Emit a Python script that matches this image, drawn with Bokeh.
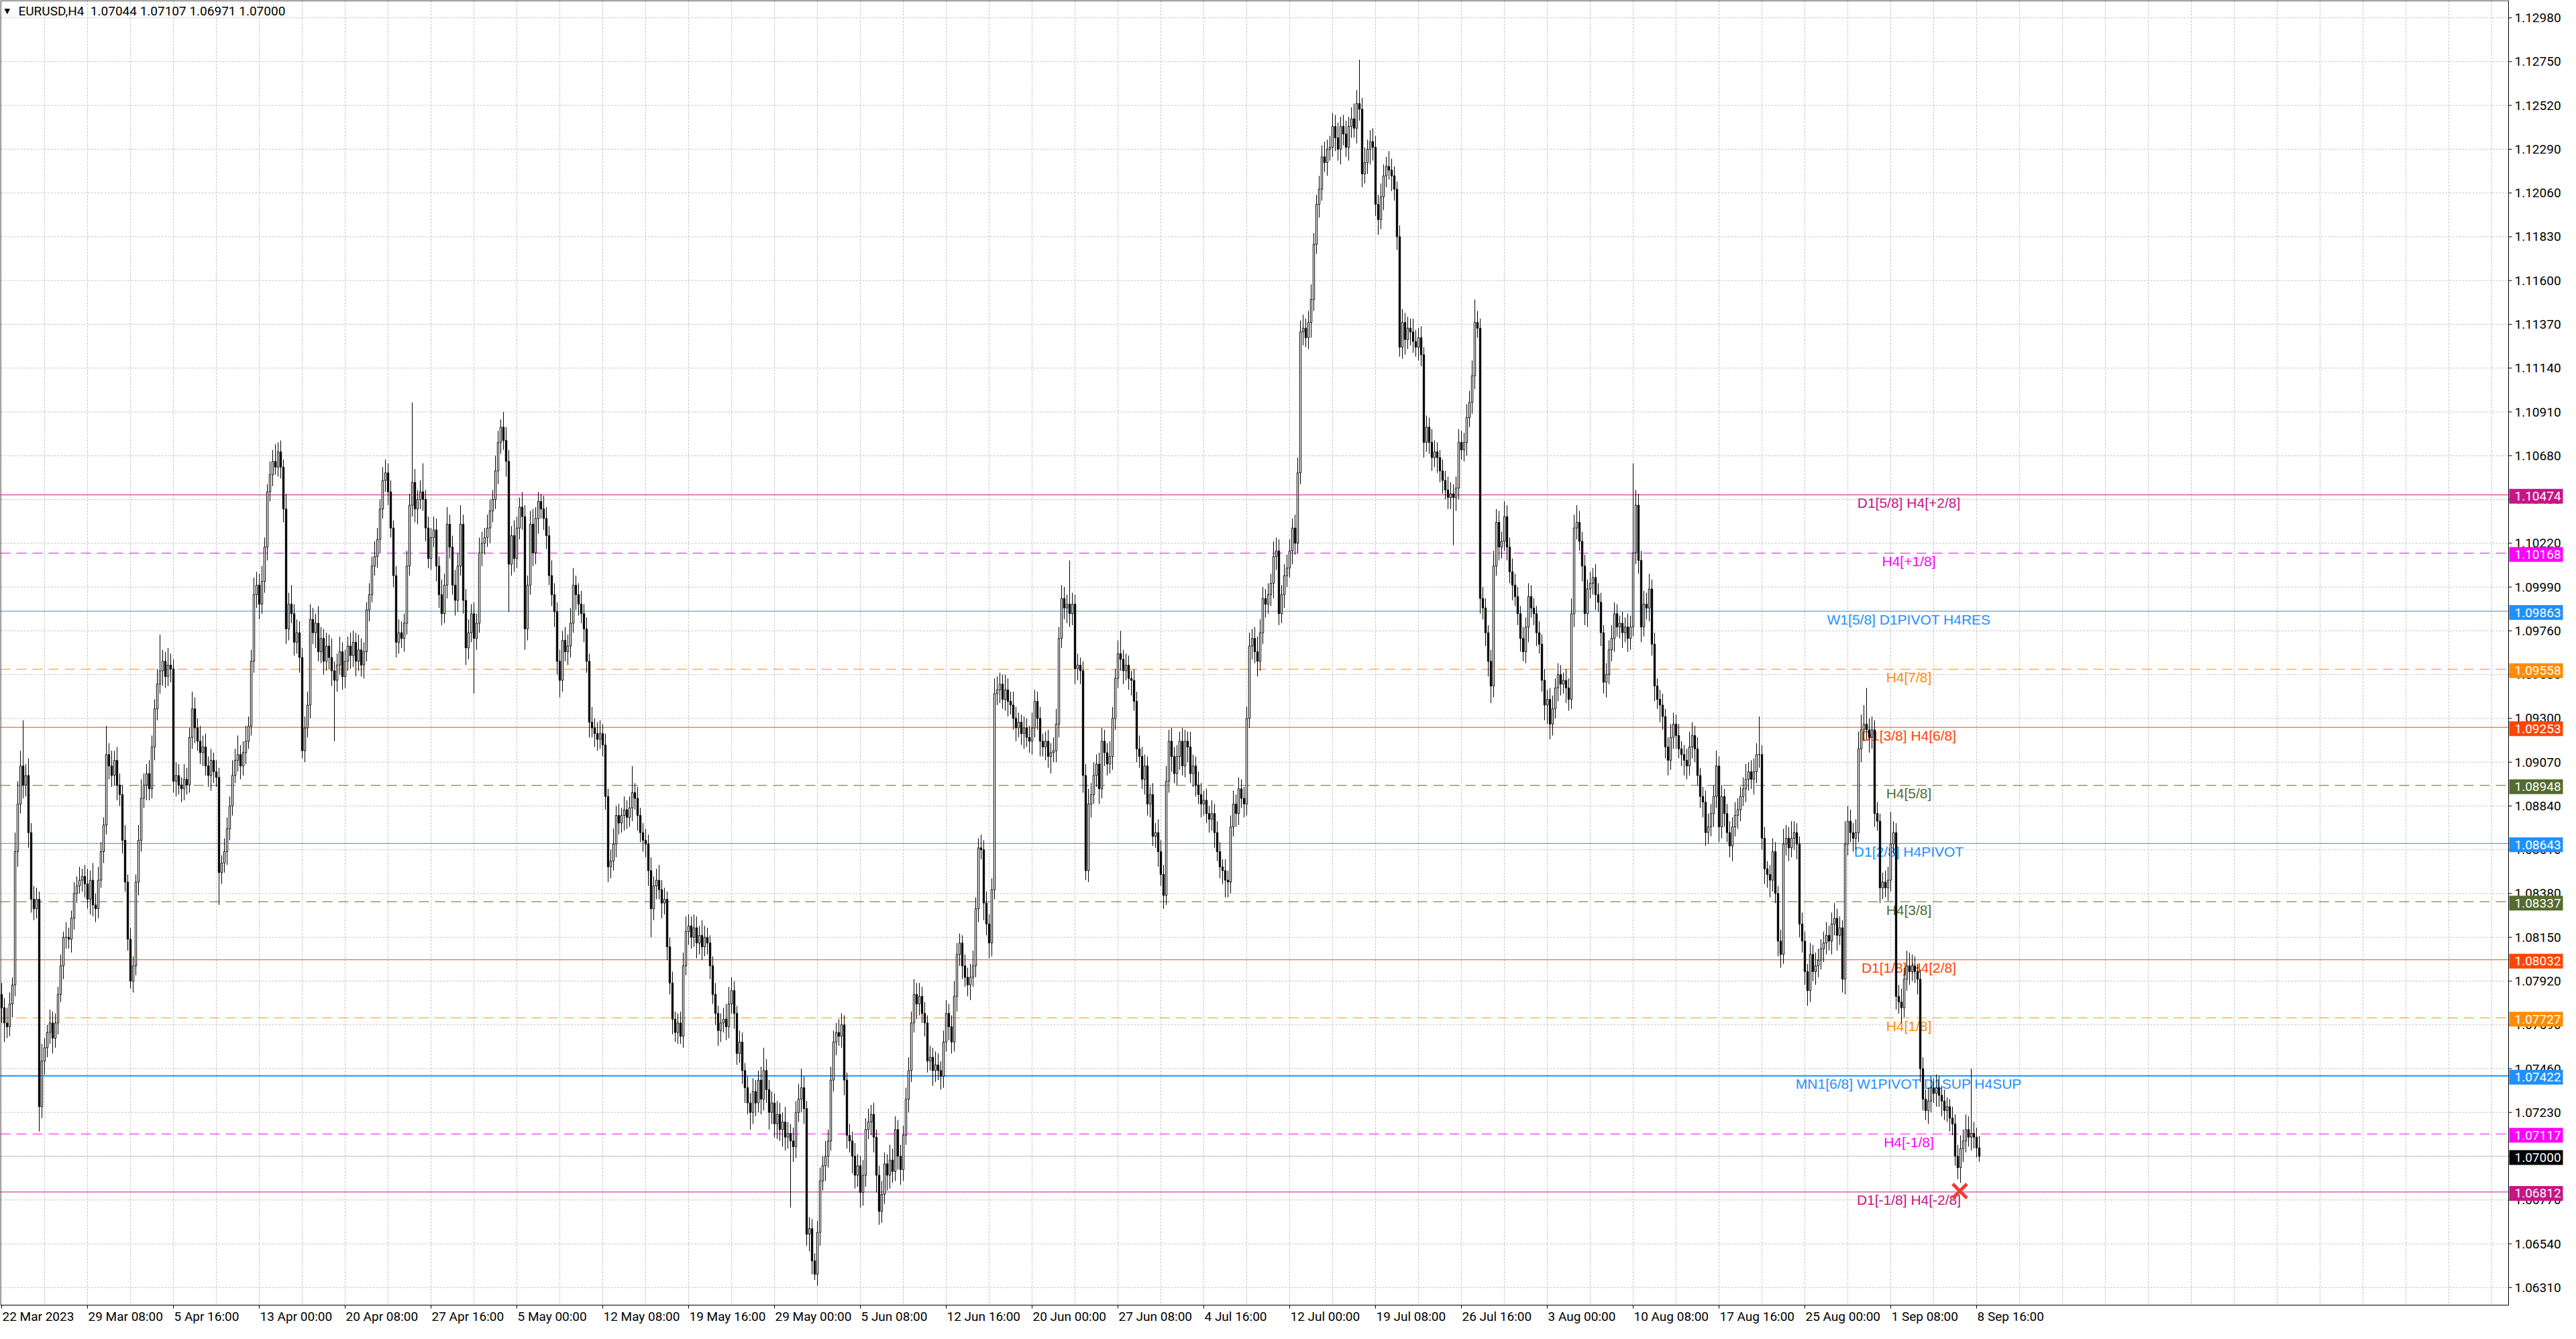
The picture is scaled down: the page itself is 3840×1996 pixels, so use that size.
import numpy as np
from bokeh.plotting import figure
from bokeh.models import Range1d
from bokeh.core.properties import value
from bokeh.embed import file_html
from bokeh.resources import INLINE

symbol = "EURUSD,H4"

# H4 closes in 1/10000 above 1.0000, one row per 16 bars (opens follow previous close)
first_open = 785
close_p = [
    778, 770, 768, 780, 790, 860, 885, 905, 895, 900, 870, 835, 830, 835, 726, 750,
    757, 765, 770, 762, 770, 785, 800, 815, 815, 814, 825, 838, 842, 845, 847, 843,
    835, 845, 832, 830, 845, 860, 874, 911, 905, 900, 908, 895, 890, 866, 844, 814,
    792, 800, 844, 866, 888, 895, 901, 893, 915, 935, 948, 955, 960, 952, 958, 956,
    897, 900, 895, 893, 898, 895, 920, 935, 925, 918, 912, 915, 905, 900, 908, 902,
    899, 849, 854, 860, 872, 884, 900, 908, 911, 905, 912, 918, 926, 960, 995, 1000,
    990, 1002, 1020, 1049, 1058, 1065, 1062, 1070, 1062, 1040, 977, 990, 985, 970, 975, 962,
    913, 925, 937, 982, 975, 980, 965, 972, 960, 968, 962, 955, 950, 958, 965, 952,
    960, 968, 963, 970, 960, 966, 958, 965, 987, 995, 1010, 1015, 1024, 1040, 1055, 1059,
    1049, 1030, 1005, 970, 975, 972, 980, 1010, 1042, 1054, 1040, 1045, 1049, 1045, 1030, 1014,
    1025, 1029, 1010, 995, 985, 1000, 1032, 1020, 1000, 992, 1010, 1032, 992, 967, 975, 985,
    972, 980, 1017, 1022, 1025, 1030, 1039, 1045, 1060, 1075, 1083, 1076, 1065, 1011, 1026, 1014,
    1030, 1041, 1036, 977, 1000, 1032, 1017, 1035, 1044, 1040, 1035, 1026, 1005, 995, 986, 960,
    950, 971, 965, 968, 980, 1000, 995, 990, 985, 977, 960, 928, 925, 922, 919, 922,
    916, 889, 852, 855, 864, 879, 875, 879, 882, 878, 883, 891, 888, 879, 870, 866,
    864, 850, 830, 842, 845, 840, 833, 835, 810, 791, 772, 765, 770, 763, 800, 818,
    821, 815, 820, 812, 816, 810, 815, 812, 800, 785, 775, 766, 770, 772, 768, 780,
    787, 775, 754, 760, 745, 736, 728, 723, 734, 728, 740, 730, 745, 735, 723, 728,
    717, 722, 714, 718, 710, 712, 708, 705, 723, 730, 736, 725, 659, 662, 645, 638,
    660, 687, 695, 700, 708, 740, 760, 765, 763, 769, 740, 711, 708, 700, 690, 695,
    681, 690, 714, 718, 722, 710, 690, 671, 680, 696, 690, 698, 692, 714, 700, 693,
    711, 730, 745, 770, 785, 780, 784, 775, 770, 750, 752, 745, 748, 745, 742, 760,
    775, 768, 760, 784, 806, 812, 800, 794, 790, 794, 800, 830, 862, 861, 833, 822,
    812, 840, 943, 945, 948, 940, 945, 939, 937, 930, 925, 928, 922, 925, 920, 918,
    925, 939, 930, 918, 915, 918, 910, 912, 913, 927, 972, 993, 988, 990, 985, 990,
    956, 958, 955, 900, 850, 885, 890, 900, 906, 893, 918, 912, 906, 910, 930, 951,
    964, 961, 955, 958, 951, 950, 939, 914, 910, 898, 905, 885, 890, 868, 870, 860,
    848, 837, 897, 918, 910, 901, 910, 918, 905, 918, 915, 901, 905, 895, 890, 885,
    887, 880, 877, 880, 870, 860, 852, 850, 845, 844, 873, 885, 880, 893, 888, 885,
    930, 968, 972, 965, 960, 975, 993, 990, 995, 1001, 1015, 1018, 985, 995, 1005, 1009,
    1018, 1030, 1022, 1059, 1133, 1135, 1130, 1138, 1150, 1179, 1200, 1208, 1225, 1222, 1229, 1230,
    1241, 1235, 1229, 1241, 1237, 1230, 1241, 1245, 1240, 1253, 1250, 1216, 1222, 1229, 1233, 1230,
    1200, 1192, 1204, 1215, 1220, 1218, 1215, 1208, 1183, 1125, 1138, 1129, 1135, 1133, 1128, 1125,
    1130, 1121, 1075, 1083, 1075, 1067, 1070, 1067, 1060, 1055, 1050, 1046, 1048, 1046, 1051, 1075,
    1071, 1075, 1088, 1096, 1110, 1138, 1135, 993, 988, 975, 960, 947, 1010, 1033, 1020, 1023,
    1036, 1020, 1007, 1000, 994, 985, 972, 965, 978, 994, 988, 985, 975, 969, 950, 937,
    940, 927, 935, 946, 953, 948, 950, 946, 940, 985, 1030, 1033, 1023, 1010, 985, 998,
    1001, 1004, 995, 991, 975, 949, 953, 966, 972, 985, 978, 980, 975, 978, 972, 978,
    1017, 1042, 1013, 978, 990, 988, 998, 969, 947, 940, 937, 931, 915, 908, 920, 927,
    921, 914, 911, 908, 905, 915, 921, 914, 900, 889, 886, 870, 873, 880, 889, 905,
    873, 889, 880, 870, 863, 873, 879, 882, 889, 893, 898, 902, 898, 902, 911, 911,
    867, 851, 848, 845, 860, 838, 813, 806, 864, 867, 862, 867, 870, 864, 822, 813,
    797, 787, 806, 797, 800, 803, 809, 812, 816, 813, 822, 825, 816, 820, 793, 864,
    876, 870, 867, 870, 914, 924, 927, 924, 920, 924, 880, 876, 841, 844, 841, 845,
    864, 870, 784, 781, 778, 793, 800, 797, 800, 797, 793, 746, 730, 724, 729, 736,
    733, 736, 732, 729, 724, 726, 720, 717, 700, 694, 704, 708, 714, 710, 712, 710,
    704.4, 700,
]
# upper / lower shadow lengths beyond the body, same units
hi_wick = [
    6, 5, 8, 6, 4, 10, 12, 8, 24, 6, 9, 5, 7, 6, 4, 9,
    5, 4, 7, 6, 5, 4, 6, 3, 8, 5, 4, 6, 5, 7, 4, 6,
    8, 5, 9, 6, 7, 5, 4, 15, 6, 8, 5, 7, 6, 5, 8, 4,
    6, 5, 4, 8, 10, 6, 5, 7, 6, 5, 8, 19, 6, 5, 9, 6,
    5, 7, 6, 4, 8, 6, 5, 9, 6, 5, 8, 6, 7, 5, 6, 4,
    6, 5, 4, 7, 6, 5, 8, 6, 10, 5, 6, 8, 5, 6, 9, 7,
    6, 8, 5, 4, 7, 6, 9, 5, 6, 4, 8, 6, 10, 5, 7, 6,
    5, 6, 7, 8, 6, 5, 9, 6, 5, 7, 6, 10, 5, 6, 8, 5,
    6, 5, 7, 6, 5, 8, 6, 5, 4, 6, 5, 8, 6, 5, 7, 7,
    5, 6, 4, 5, 7, 6, 5, 8, 6, 42, 7, 5, 6, 15, 5, 6,
    5, 7, 6, 5, 8, 6, 9, 5, 6, 8, 7, 10, 5, 6, 7, 5,
    6, 5, 8, 6, 5, 7, 6, 5, 8, 6, 4, 8, 7, 6, 5, 8,
    6, 5, 8, 6, 5, 7, 8, 6, 5, 4, 7, 6, 5, 8, 6, 5,
    6, 5, 7, 6, 8, 9, 5, 6, 7, 5, 6, 4, 8, 5, 6, 7,
    5, 6, 4, 6, 8, 5, 6, 4, 7, 5, 6, 14, 5, 6, 4, 5,
    6, 5, 7, 5, 6, 8, 5, 6, 4, 5, 6, 4, 5, 6, 7, 8,
    6, 5, 7, 6, 5, 8, 6, 5, 4, 5, 6, 4, 5, 6, 8, 9,
    7, 5, 4, 6, 5, 4, 6, 5, 7, 6, 5, 7, 12, 6, 5, 6,
    5, 7, 6, 5, 8, 6, 5, 7, 6, 8, 10, 6, 4, 6, 5, 4,
    6, 7, 5, 8, 6, 7, 6, 5, 7, 6, 5, 4, 6, 5, 7, 6,
    5, 8, 6, 7, 5, 6, 4, 5, 7, 6, 5, 8, 6, 7, 5, 6,
    5, 6, 7, 6, 8, 6, 7, 5, 6, 4, 6, 5, 7, 6, 5, 6,
    7, 5, 6, 8, 6, 5, 4, 6, 5, 7, 8, 6, 5, 7, 5, 6,
    5, 6, 8, 7, 6, 5, 8, 6, 5, 7, 6, 5, 4, 6, 5, 6,
    8, 6, 5, 6, 4, 5, 6, 5, 7, 8, 6, 7, 6, 5, 23, 6,
    5, 6, 4, 5, 6, 8, 6, 7, 5, 6, 7, 6, 5, 8, 6, 5,
    7, 12, 5, 6, 5, 4, 6, 5, 7, 5, 6, 5, 4, 6, 5, 7,
    6, 5, 8, 6, 7, 5, 6, 5, 7, 6, 5, 8, 6, 5, 7, 6,
    5, 6, 4, 7, 5, 6, 5, 4, 6, 5, 6, 7, 5, 6, 5, 6,
    6, 7, 5, 6, 8, 7, 6, 5, 6, 5, 8, 7, 6, 5, 6, 7,
    6, 5, 7, 8, 6, 7, 5, 6, 8, 6, 5, 7, 6, 8, 5, 6,
    7, 6, 8, 5, 6, 7, 5, 6, 8, 7, 23, 6, 8, 5, 6, 7,
    6, 5, 7, 6, 5, 8, 6, 5, 4, 6, 7, 5, 6, 5, 7, 6,
    5, 6, 4, 6, 5, 7, 6, 5, 4, 6, 5, 7, 6, 5, 6, 7,
    6, 5, 7, 6, 8, 12, 6, 5, 6, 5, 4, 6, 8, 7, 6, 5,
    8, 6, 5, 7, 6, 5, 4, 6, 5, 7, 6, 5, 4, 6, 5, 6,
    5, 6, 7, 5, 6, 5, 4, 6, 5, 8, 7, 9, 6, 5, 6, 5,
    6, 5, 7, 6, 5, 4, 6, 5, 7, 6, 5, 4, 6, 5, 7, 6,
    47, 8, 6, 5, 7, 6, 8, 5, 6, 4, 5, 6, 4, 5, 7, 6,
    5, 6, 4, 5, 6, 8, 7, 5, 6, 4, 5, 6, 7, 5, 6, 8,
    5, 6, 4, 5, 6, 5, 7, 6, 5, 6, 8, 5, 6, 7, 6, 20,
    5, 6, 4, 5, 7, 5, 4, 6, 8, 7, 6, 9, 6, 5, 4, 6,
    5, 4, 6, 5, 7, 6, 5, 6, 7, 5, 6, 8, 5, 6, 4, 12,
    8, 6, 5, 7, 9, 8, 10, 19, 6, 7, 5, 6, 4, 5, 6, 7,
    17, 6, 5, 6, 7, 6, 8, 7, 6, 5, 4, 5, 6, 5, 7, 6,
    5, 7, 6, 5, 6, 5, 4, 6, 5, 6, 7, 6, 8, 7, 34, 6,
    5, 6.3,
]
lo_wick = [
    8, 10, 6, 5, 7, 6, 8, 5, 7, 6, 8, 7, 6, 5, 13, 6,
    7, 5, 6, 8, 5, 6, 4, 7, 6, 5, 7, 6, 5, 4, 6, 7,
    5, 8, 6, 7, 5, 4, 6, 5, 7, 6, 5, 8, 6, 7, 5, 6,
    4, 6, 5, 7, 6, 5, 8, 6, 5, 7, 6, 5, 8, 6, 5, 7,
    6, 8, 5, 7, 6, 5, 4, 6, 8, 5, 6, 7, 5, 6, 8, 6,
    5, 17, 6, 5, 7, 6, 5, 4, 6, 7, 5, 6, 4, 5, 6, 7,
    8, 5, 6, 7, 5, 6, 4, 5, 6, 7, 8, 6, 5, 7, 6, 8,
    4, 6, 5, 7, 6, 8, 5, 6, 7, 5, 6, 8, 32, 6, 5, 7,
    6, 5, 7, 6, 8, 5, 6, 7, 5, 6, 4, 5, 6, 7, 5, 6,
    7, 5, 6, 8, 6, 5, 7, 6, 5, 6, 7, 8, 5, 6, 7, 5,
    6, 5, 8, 7, 6, 5, 7, 6, 5, 8, 6, 5, 7, 9, 6, 5,
    29, 6, 5, 7, 6, 5, 8, 6, 5, 7, 6, 5, 8, 25, 6, 7,
    5, 6, 7, 11, 6, 5, 7, 6, 8, 5, 6, 7, 5, 6, 8, 7,
    9, 6, 5, 7, 6, 5, 8, 6, 5, 7, 6, 8, 5, 7, 6, 5,
    6, 7, 8, 6, 5, 7, 6, 5, 8, 6, 5, 7, 6, 8, 5, 6,
    7, 8, 15, 6, 7, 5, 8, 6, 7, 6, 8, 5, 6, 4, 6, 5,
    7, 6, 5, 8, 6, 7, 5, 6, 7, 5, 6, 8, 6, 5, 7, 6,
    5, 8, 6, 5, 7, 8, 6, 9, 6, 7, 5, 8, 6, 7, 9, 6,
    7, 8, 6, 9, 7, 6, 35, 8, 6, 5, 7, 8, 6, 9, 7, 3,
    6, 7, 5, 8, 6, 5, 6, 7, 5, 6, 8, 7, 6, 9, 7, 6,
    8, 7, 6, 5, 7, 8, 9, 7, 6, 5, 8, 7, 6, 5, 7, 8,
    6, 5, 7, 6, 5, 8, 6, 5, 7, 6, 5, 8, 6, 5, 7, 6,
    5, 7, 6, 5, 8, 6, 7, 5, 6, 8, 5, 6, 7, 5, 9, 6,
    8, 7, 5, 6, 7, 5, 6, 8, 5, 6, 7, 5, 6, 8, 5, 6,
    7, 5, 6, 8, 5, 7, 6, 9, 5, 6, 7, 5, 6, 8, 7, 6,
    8, 6, 7, 9, 5, 6, 7, 5, 6, 8, 5, 7, 6, 5, 7, 6,
    5, 6, 7, 5, 6, 8, 5, 7, 6, 5, 8, 6, 7, 5, 6, 8,
    6, 7, 5, 6, 8, 5, 6, 7, 5, 6, 8, 5, 7, 6, 5, 7,
    6, 5, 7, 6, 8, 5, 6, 7, 9, 8, 6, 5, 7, 6, 5, 7,
    6, 5, 7, 6, 8, 5, 6, 7, 5, 6, 8, 7, 6, 5, 7, 6,
    5, 7, 6, 5, 6, 7, 5, 6, 8, 6, 5, 7, 6, 5, 7, 6,
    5, 7, 6, 8, 6, 5, 7, 6, 5, 8, 6, 7, 5, 6, 8, 7,
    6, 8, 5, 7, 6, 5, 8, 6, 7, 5, 6, 8, 5, 7, 6, 5,
    7, 6, 8, 5, 6, 7, 5, 8, 6, 7, 5, 6, 6, 25, 7, 6,
    5, 6, 7, 5, 6, 7, 5, 8, 6, 7, 8, 9, 6, 5, 7, 6,
    5, 7, 6, 8, 5, 6, 7, 5, 6, 8, 5, 6, 7, 5, 6, 8,
    10, 8, 6, 5, 7, 6, 5, 8, 6, 5, 7, 6, 5, 8, 6, 7,
    5, 6, 8, 5, 7, 6, 8, 5, 6, 7, 5, 6, 8, 5, 7, 6,
    5, 6, 7, 8, 5, 6, 7, 6, 8, 5, 9, 7, 6, 8, 5, 6,
    7, 5, 6, 8, 7, 5, 6, 7, 5, 6, 8, 7, 6, 5, 7, 6,
    8, 6, 7, 5, 6, 8, 5, 7, 6, 5, 7, 6, 5, 8, 6, 7,
    6, 8, 7, 9, 6, 5, 8, 7, 5, 6, 7, 5, 6, 8, 7, 6,
    7, 8, 6, 5, 7, 6, 5, 7, 6, 5, 7, 6, 8, 5, 7, 8,
    6, 5, 7, 6, 5, 7, 6, 5, 8, 6, 7, 5, 8, 6, 5, 7,
    6, 5, 7, 6, 8, 5, 6, 7, 5, 6, 8, 7, 6, 5, 7, 6,
    5, 7, 6, 8, 5, 6, 7, 6, 5, 6, 8, 7, 6, 5, 7, 6,
    5, 2.9,
]

# time axis: a label every 32 bars
date_labels = ["22 Mar 2023", "29 Mar 08:00", "5 Apr 16:00", "13 Apr 00:00", "20 Apr 08:00",
               "27 Apr 16:00", "5 May 00:00", "12 May 08:00", "19 May 16:00", "29 May 00:00",
               "5 Jun 08:00", "12 Jun 16:00", "20 Jun 00:00", "27 Jun 08:00", "4 Jul 16:00",
               "12 Jul 00:00", "19 Jul 08:00", "26 Jul 16:00", "3 Aug 00:00", "10 Aug 08:00",
               "17 Aug 16:00", "25 Aug 00:00", "1 Sep 08:00", "8 Sep 16:00"]
bars_per_label = 32

price_ticks = [1.06310, 1.06540, 1.06770, 1.07000, 1.07230, 1.07460, 1.07690, 1.07920,
               1.08150, 1.08380, 1.08610, 1.08840, 1.09070, 1.09300, 1.09530, 1.09760,
               1.09990, 1.10220, 1.10450, 1.10680, 1.10910, 1.11140, 1.11370, 1.11600,
               1.11830, 1.12060, 1.12290, 1.12520, 1.12750, 1.12980]

levels = [1.10474, 1.10168, 1.09863, 1.09558, 1.09253, 1.08948, 1.08643,
          1.08337, 1.08032, 1.07727, 1.07422, 1.07117, 1.06812]
level_names = ["D1[5/8] H4[+2/8]", "H4[+1/8]", "W1[5/8] D1PIVOT H4RES", "H4[7/8]",
               "D1[3/8] H4[6/8]", "H4[5/8]", "D1[2/8] H4PIVOT", "H4[3/8]",
               "D1[1/8] H4[2/8]", "H4[1/8]", "MN1[6/8] W1PIVOT D1SUP H4SUP",
               "H4[-1/8]", "D1[-1/8] H4[-2/8]"]
level_colors = ["#C71585", "#FF00FF", "#1E90FF", "#FF8C00", "#FF4500", "#556B2F", "#1E90FF",
                "#556B2F", "#FF4500", "#FF8C00", "#1E90FF", "#FF00FF", "#C71585"]
level_dashed = [False, True, False, True, False, True, False, True, False, True, False, True, False]
level_width = [1, 1, 1, 1, 1, 1, 1, 1, 1, 1, 2, 1, 1]

cross_bar = [729.75]
cross_price = [1.06817]

# ---- candles
n = min(len(close_p), len(hi_wick), len(lo_wick))
c = 1 + np.array(close_p[:n], float) / 1e4
o = np.concatenate([[1 + first_open / 1e4], c[:-1]])
hi = np.maximum(o, c) + np.array(hi_wick[:n], float) / 1e4
lo = np.minimum(o, c) - np.array(lo_wick[:n], float) / 1e4
x = np.arange(n)
body_fill = np.where(c >= o, "white", "black")

# canvas geometry: 4 px per bar, price scale as on the terminal
FW, FH = 3824, 1980
CW, CB = 3739, 1945          # right edge of chart area, bottom edge of chart area (px)
py = 3.524e-5                 # price per pixel
x0 = -0.5
y1 = 1.13072


def X(px):
    return x0 + px / 4.0


def Y(px):
    return y1 - px * py


p = figure(frame_width=FW, frame_height=FH, x_range=Range1d(x0, X(FW)), y_range=Range1d(Y(FH), y1),
           output_backend="svg", toolbar_location=None, x_axis_location=None, y_axis_location=None,
           min_border=0, background_fill_color="white", border_fill_color="white")
p.outline_line_color = None
p.grid.visible = False

font = value("Roboto")
grid_c = "#C4C4C4"

# grid
nt = len(price_ticks)
p.segment(x0=[X(0)] * nt, y0=price_ticks, x1=[X(CW)] * nt, y1=price_ticks,
          line_color=grid_c, line_dash="3 2", line_width=1)
vg = list(range(16, int(X(CW)), 16))
p.segment(x0=vg, y0=[Y(0)] * len(vg), x1=vg, y1=[Y(CB)] * len(vg),
          line_color=grid_c, line_dash="3 2", line_width=1)

# levels and bid line
for lv, col, d, w in zip(levels, level_colors, level_dashed, level_width):
    p.segment(x0=[X(0)], y0=[lv], x1=[X(CW)], y1=[lv], line_color=col, line_width=w,
              line_dash="15 9" if d else "solid")
p.segment(x0=[X(0)], y0=[c[-1]], x1=[X(CW)], y1=[c[-1]], line_color="#C0C0C0", line_width=1)

p.text(x=[710.75] * len(levels), y=[lv - 12 * py for lv in levels], text=level_names,
       text_color=level_colors, text_font=value("Liberation Sans"), text_font_size="21px",
       text_align="center", text_baseline="middle")

# candles
p.segment(x0=x, y0=lo, x1=x, y1=hi, line_color="black", line_width=1)
p.vbar(x=x, width=0.6, top=np.maximum(o, c), bottom=np.minimum(o, c),
       fill_color=body_fill, line_color="black", line_width=1)

p.scatter(cross_bar, cross_price, marker="x", size=30, line_width=5, line_color="#E5413A")

# chart frame
p.quad(left=[X(0.5)], right=[X(CW)], top=[Y(0.5)], bottom=[Y(CB)],
       fill_color=None, line_color="black", line_width=1)

# price scale
p.segment(x0=[X(CW)] * nt, y0=price_ticks, x1=[X(CW + 5)] * nt, y1=price_ticks,
          line_color="black", line_width=1)
p.text(x=[X(CW + 9)] * nt, y=price_ticks, text=["%.5f" % t for t in price_ticks],
       text_font=font, text_font_size="19px", text_color="black",
       text_align="left", text_baseline="middle")

# time scale
xt = [i * bars_per_label for i in range(len(date_labels))]
p.segment(x0=xt, y0=[Y(CB)] * len(xt), x1=xt, y1=[Y(CB + 5)] * len(xt),
          line_color="black", line_width=1)
p.text(x=[t + 0.25 for t in xt], y=[Y(1962)] * len(xt), text=date_labels,
       text_font=font, text_font_size="19px", text_color="black",
       text_align="left", text_baseline="middle")

# coloured price tags
tag_levels = levels + [float(c[-1])]
tag_colors = level_colors + ["black"]
tag_y = [lv - 2 * py for lv in tag_levels]
p.rect(x=[X(CW + 41)] * len(tag_levels), y=tag_y, width=80 / 4.0, height=22 * py,
       fill_color=tag_colors, line_color=None)
p.text(x=[X(CW + 9)] * len(tag_levels), y=tag_y, text=["%.5f" % t for t in tag_levels],
       text_font=font, text_font_size="19px", text_color="white",
       text_align="left", text_baseline="middle")

# header
head = "%s\u00a0 %.5f %.5f %.5f %.5f" % (symbol, o[-1], hi[-1], lo[-1], c[-1])
p.text(x=[X(27)], y=[Y(16)], text=[head], text_font=font, text_font_size="19px",
       text_color="black", text_baseline="middle")
p.text(x=[X(6)], y=[Y(16)], text=["\u25bc"], text_font=value("DejaVu Sans"),
       text_font_size="11px", text_color="black", text_baseline="middle")

open("out.html", "w").write(file_html(p, INLINE))
